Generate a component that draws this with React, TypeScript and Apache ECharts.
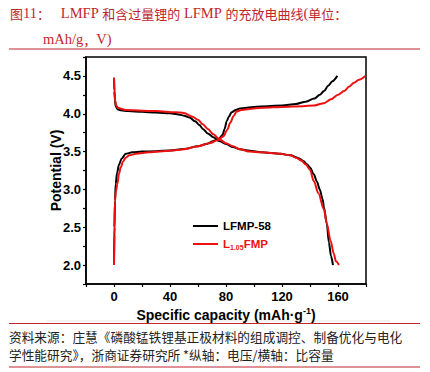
import React, { useEffect, useRef } from "react";
import * as echarts from "echarts";

// LFMP-58 (black)
const blackChargeCap = [0, 0.3, 0.7, 1.2, 2.2, 3.6, 5.5, 8.4, 13, 20, 30, 40, 50, 60, 66, 71, 75, 77.5, 79, 80.5, 82, 84, 87, 90, 100, 110, 120, 130, 137, 143, 147, 150, 153, 156, 159.5];
const blackChargeV = [2.0, 2.5, 2.85, 3.07, 3.22, 3.33, 3.41, 3.47, 3.49, 3.5, 3.505, 3.515, 3.535, 3.57, 3.6, 3.64, 3.67, 3.72, 3.8, 3.9, 3.96, 4.02, 4.05, 4.07, 4.09, 4.1, 4.11, 4.13, 4.16, 4.2, 4.25, 4.3, 4.37, 4.43, 4.5];
const blackDischargeCap = [0, 0.3, 0.7, 1.2, 2.5, 5, 10, 20, 30, 40, 45, 50, 54, 58, 61, 63.5, 67, 71, 75, 80, 85, 90, 97, 105, 119, 126, 131, 135, 138, 140, 142.7, 145, 147, 149, 150, 152, 153.5, 155, 156.4];
const blackDischargeV = [4.47, 4.3, 4.18, 4.1, 4.06, 4.045, 4.035, 4.025, 4.015, 4.005, 3.995, 3.975, 3.95, 3.9, 3.85, 3.8, 3.74, 3.69, 3.64, 3.6, 3.56, 3.53, 3.51, 3.49, 3.47, 3.45, 3.42, 3.38, 3.33, 3.29, 3.2, 3.1, 3.0, 2.87, 2.76, 2.55, 2.3, 2.12, 2.0];

// L1.05FMP (red)
const redChargeCap = [0, 0.3, 0.7, 1.4, 2.4, 3.5, 4.8, 6.5, 8.4, 11, 15.6, 25, 40, 50, 60, 68, 74, 78, 81, 83, 85.5, 87.5, 91, 100, 107, 120, 135, 143, 150, 155, 160, 164.3, 168, 171.4, 175, 179.5];
const redChargeV = [2.0, 2.4, 2.85, 2.98, 3.07, 3.2, 3.29, 3.37, 3.42, 3.45, 3.47, 3.49, 3.51, 3.53, 3.57, 3.61, 3.65, 3.7, 3.79, 3.88, 3.97, 4.03, 4.05, 4.07, 4.08, 4.09, 4.1, 4.11, 4.14, 4.19, 4.25, 4.3, 4.36, 4.41, 4.45, 4.5];
const redDischargeCap = [0, 0.3, 0.8, 1.5, 3, 8.4, 20, 30, 44, 50, 56, 60, 63.5, 67, 71, 75.5, 80, 85, 90, 97, 105, 119, 126, 130, 134, 137, 140, 142.7, 146, 149.9, 152, 154.7, 157, 158.5, 160.7];
const redDischargeV = [4.48, 4.3, 4.18, 4.11, 4.075, 4.05, 4.04, 4.035, 4.02, 4.01, 3.96, 3.92, 3.86, 3.8, 3.73, 3.66, 3.61, 3.57, 3.53, 3.5, 3.49, 3.47, 3.45, 3.42, 3.38, 3.33, 3.26, 3.11, 2.95, 2.74, 2.55, 2.32, 2.15, 2.05, 2.0];

const seriesNames = ["LFMP-58", "L1.05FMP"];
const xLabelValues = [0, 40, 80, 120, 160];
const yLabelValues = [2.0, 2.5, 3.0, 3.5, 4.0, 4.5];

const BLACK = "#000000";
const RED = "#ee1111";
const TITLE_RED = "#c0272d";

const zip = (a: number[], b: number[]) => a.map((v, i) => [v, b[i]]);

const SERIF = "'Liberation Serif', 'Noto Sans CJK SC', serif";
const CJK = "'Noto Sans CJK SC', sans-serif";
const ARIAL = "'Liberation Sans', Arial, sans-serif";

export default function App() {
  const ref = useRef<HTMLDivElement>(null);
  useEffect(() => {
    if (!ref.current) return;
    const chart = echarts.init(ref.current, null, { renderer: "svg" });
    const lineStyleBase = { width: 2 };
    const mk = (name: string, cap: number[], v: number[], color: string, z: number) => ({
      name,
      type: "line",
      data: zip(cap, v),
      showSymbol: false,
      smooth: 0.3,
      smoothMonotone: "x",
      lineStyle: { ...lineStyleBase, color },
      itemStyle: { color },
      z,
    });
    chart.setOption({
      animation: false,
      backgroundColor: "#ffffff",
      grid: {
        left: 86,
        top: 57,
        width: 280,
        height: 227,
        show: true,
        borderColor: "#000",
        borderWidth: 1.5,
      },
      xAxis: {
        type: "value",
        min: -20,
        max: 180,
        interval: 20,
        name: "Specific capacity (mAh·g{sup|-1})",
        nameLocation: "middle",
        nameGap: 22,
        nameMoveOverlap: false,
        nameTextStyle: {
          fontFamily: ARIAL,
          fontWeight: "bold",
          fontSize: 14,
          color: "#000",
          rich: {
            sup: { fontFamily: ARIAL, fontWeight: "bold", fontSize: 9, color: "#000", verticalAlign: "top", padding: [0, 0, 8, 0] },
          },
        },
        axisLine: { show: true, onZero: false, lineStyle: { color: "#000", width: 1.5 } },
        axisTick: { show: true, inside: false, length: 3, lineStyle: { color: "#000", width: 1.2 } },
        axisLabel: {
          fontFamily: ARIAL,
          fontWeight: "bold",
          fontSize: 13,
          color: "#000",
          margin: 6,
          formatter: (v: number) => (xLabelValues.includes(v) ? String(v) : ""),
        },
        splitLine: { show: false },
      },
      yAxis: {
        type: "value",
        min: 1.75,
        max: 4.75,
        interval: 0.25,
        name: "Potential (V)",
        nameLocation: "middle",
        nameGap: 23,
        nameMoveOverlap: false,
        nameTextStyle: { fontFamily: ARIAL, fontWeight: "bold", fontSize: 14, color: "#000" },
        axisLine: { show: true, onZero: false, lineStyle: { color: "#000", width: 1.5 } },
        axisTick: { show: true, inside: false, length: 3, lineStyle: { color: "#000", width: 1.2 } },
        axisLabel: {
          fontFamily: ARIAL,
          fontWeight: "bold",
          fontSize: 13,
          color: "#000",
          margin: 5,
          formatter: (v: number) => (yLabelValues.some((y) => Math.abs(y - v) < 1e-6) ? v.toFixed(1) : ""),
        },
        splitLine: { show: false },
      },
      series: [
        mk(seriesNames[0], blackChargeCap, blackChargeV, BLACK, 2),
        mk(seriesNames[0], blackDischargeCap, blackDischargeV, BLACK, 2),
        mk(seriesNames[1], redChargeCap, redChargeV, RED, 3),
        mk(seriesNames[1], redDischargeCap, redDischargeV, RED, 3),
      ],
      graphic: [
        {
          type: "text",
          x: 10,
          y: 13,
          style: {
            text: "{c|图}{l|11}{c|：}{l|   LMFP }{c|和含过量锂的}{l| LFMP }{c|的充放电曲线}{l|(}{c|单位：}",
            verticalAlign: "middle",
            rich: {
              c: { fontFamily: CJK, fontSize: 13, fill: TITLE_RED },
              l: { fontFamily: SERIF, fontSize: 14.5, fill: TITLE_RED },
            },
          },
        },
        {
          type: "text",
          x: 43,
          y: 39,
          style: {
            text: "{l|mAh/g}{c|，}{l|V)}",
            verticalAlign: "middle",
            rich: {
              c: { fontFamily: CJK, fontSize: 13, fill: TITLE_RED },
              l: { fontFamily: SERIF, fontSize: 14.5, fill: TITLE_RED },
            },
          },
        },
        { type: "line", shape: { x1: 9, y1: 49, x2: 420, y2: 49 }, style: { stroke: TITLE_RED, lineWidth: 1 } },
        { type: "line", shape: { x1: 47, y1: 321, x2: 390, y2: 321 }, style: { stroke: "#e4e4e4", lineWidth: 1 } },
        { type: "line", shape: { x1: 9, y1: 323.5, x2: 420, y2: 323.5 }, style: { stroke: TITLE_RED, lineWidth: 1 } },
        {
          type: "text",
          x: 9,
          y: 336,
          style: {
            text: "资料来源：庄慧《磷酸锰铁锂基正极材料的组成调控、制备优化与电化",
            verticalAlign: "middle",
            fontFamily: CJK,
            fontSize: 12.7,
            fill: "#222",
          },
        },
        {
          type: "text",
          x: 9,
          y: 354,
          style: {
            text: "学性能研究》，浙商证券研究所 *纵轴：电压/横轴：比容量",
            verticalAlign: "middle",
            fontFamily: CJK,
            fontSize: 12.7,
            fill: "#222",
          },
        },
        { type: "line", shape: { x1: 9, y1: 367, x2: 420, y2: 367 }, style: { stroke: TITLE_RED, lineWidth: 1 } },
        // legend
        { type: "line", shape: { x1: 193, y1: 226, x2: 218, y2: 226 }, style: { stroke: BLACK, lineWidth: 2 } },
        {
          type: "text",
          x: 223,
          y: 226,
          style: { text: seriesNames[0], verticalAlign: "middle", fontFamily: ARIAL, fontWeight: "bold", fontSize: 11.5, fill: "#000" },
        },
        { type: "line", shape: { x1: 193, y1: 244, x2: 218, y2: 244 }, style: { stroke: RED, lineWidth: 2 } },
        {
          type: "text",
          x: 223,
          y: 244,
          style: {
            text: "{m|L}{s|1.05}{m|FMP}",
            verticalAlign: "middle",
            rich: {
              m: { fontFamily: ARIAL, fontWeight: "bold", fontSize: 11.5, fill: RED },
              s: { fontFamily: ARIAL, fontWeight: "bold", fontSize: 7, fill: RED, padding: [6, 0, 0, 0] },
            },
          },
        },
      ],
    });
    return () => chart.dispose();
  }, []);
  return <div ref={ref} style={{ position: "fixed", left: 0, top: 0, width: 430, height: 372 }} />;
}
